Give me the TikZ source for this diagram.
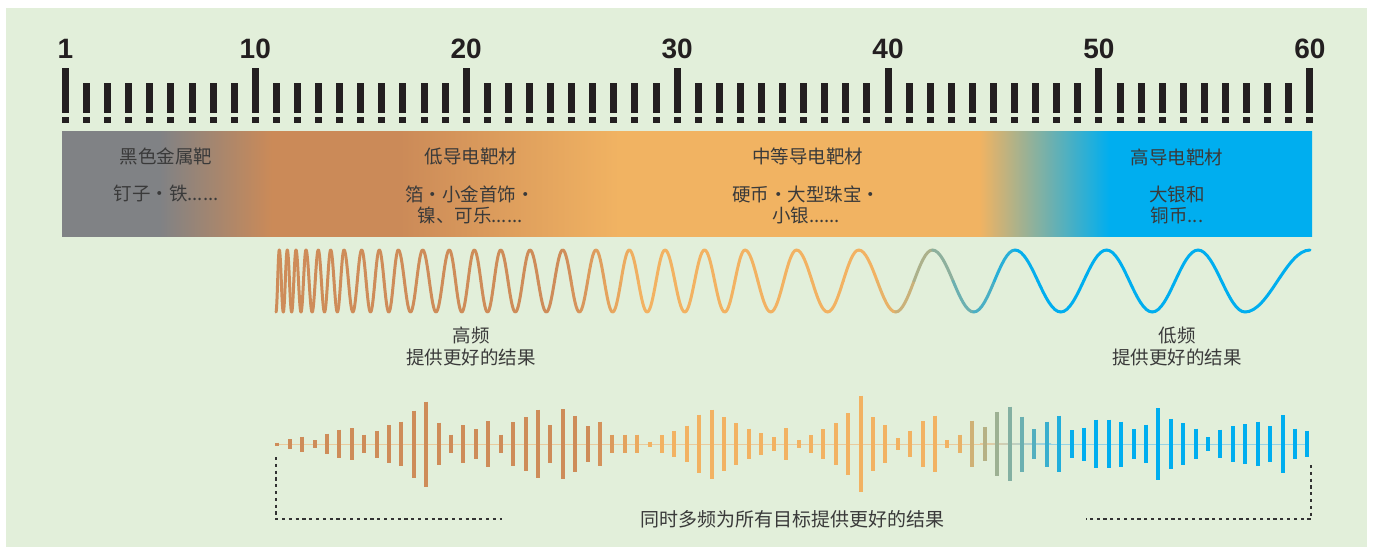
\documentclass[tikz,border=0pt]{standalone}
\usepackage{fontspec}
\usepackage{tikz}
\newfontfamily\cjk{Noto Sans CJK SC}
\newfontfamily\numfont{Liberation Sans}

\definecolor{bg}{HTML}{E2EFDA}
\definecolor{tickblack}{HTML}{231F20}
\definecolor{txt}{HTML}{3A3A3A}
\definecolor{dotgray}{HTML}{333333}
\definecolor{bandgray}{HTML}{808285}
\definecolor{bandorange}{HTML}{CB8A58}
\definecolor{bandlight}{HTML}{F1B362}
\definecolor{bandcyan}{HTML}{00AEEF}
\definecolor{waveA}{HTML}{CE8C59}
\definecolor{waveB}{HTML}{F2B262}
\definecolor{waveC}{HTML}{00AEEF}
\definecolor{lineor}{HTML}{EACB9C}
\definecolor{linecy}{HTML}{94D4E6}

% band from x=62 to x=1312 sits on 25bp..75bp
\pgfdeclarehorizontalshading{bandshade}{100bp}{color(0bp)=(bandgray); color(25bp)=(bandgray);
  color(28.9bp)=(bandgray); color(33.4bp)=(bandorange); color(38.5bp)=(bandorange);
  color(47.3bp)=(bandlight); color(61.7bp)=(bandlight); color(66.9bp)=(bandcyan);
  color(75bp)=(bandcyan); color(100bp)=(bandcyan)}

% colour 'cur' at position #1: A->B between #2 and #3, B->C between #4 and #5
\newcommand\setcol[5]{%
  \pgfmathsetmacro\fracab{min(100,max(0,(#1-#2)/(#3-#2)*100))}%
  \pgfmathsetmacro\fracbc{min(100,max(0,(#1-#4)/(#5-#4)*100))}%
  \colorlet{tmpab}{waveB!\fracab!waveA}%
  \colorlet{cur}{waveC!\fracbc!tmpab}}

\begin{document}
\begin{tikzpicture}[x=1pt,y=-1pt,
  lbl/.style={text=txt,font=\cjk\fontsize{18.5}{21.5}\selectfont,align=center,inner sep=0pt},
  num/.style={text=tickblack,font=\numfont\bfseries\fontsize{28}{28}\selectfont,anchor=base,inner sep=0pt},
  wave/.style={line width=3pt,line cap=round},
  bar/.style={line width=4pt},
  bracket/.style={draw=dotgray,line width=1.3pt,dash pattern=on 3.2pt off 3.6pt}]
\useasboundingbox (0,0) rectangle (1375,547);
\fill[white] (0,0) rectangle (1375,547);
\fill[bg] (6,8) rectangle (1367,547);

% ruler
\foreach \n in {1,...,60}{
  \pgfmathsetmacro\tx{65.5+(\n-1)*21.09}
  \pgfmathsetmacro\ttop{(\n==1 || mod(\n,10)==0) ? 68.3 : 82.7}
  \fill[tickblack] (\tx-3.5,\ttop) rectangle (\tx+3.5,113.3);
  \fill[tickblack] (\tx-3.5,116.5) rectangle (\tx+3.5,122.5);
}
\foreach \n in {1,10,20,30,40,50,60}
  \node[num] (n\n) at ({65.5+(\n-1)*21.09},58.3) {\n};

% band
\shade[shading=bandshade] (62,131) rectangle (1312,236);

\node[lbl] (ferrous) at (166,156.5) {黑色金属靶};
\node[lbl] (ferrousex) at (166,193) {钉子・铁......};
\node[lbl] (low) at (471,156.5) {低导电靶材};
\node[lbl] (lowex) at (470,204.75) {箔・小金首饰・\\镍、可乐......};
\node[lbl] (mid) at (807.5,156.5) {中等导电靶材};
\node[lbl] (midex) at (806,204.75) {硬币・大型珠宝・\\小银......};
\node[lbl] (high) at (1177,157) {高导电靶材};
\node[lbl] (highex) at (1177,205) {大银和\\铜币...};

% wave
\foreach \xb [remember=\xb as \xa (initially 276), count=\i] in {279.3,283.3,287.3,291.65,296,301,306,312.15,318.3,324.5,330.7,337.35,344,352.85,361.7,370.5,379.3,388.8,398.3,410.5,422.7,436,449.3,461.8,474.3,487.5,500.7,515.35,530,546.35,562.7,579.35,596,612.65,629.3,647.15,665,684.75,704.5,724.75,745,770.75,796.5,827.6,858.75,895.6,932.4,973.7,1015,1060.75,1106.5,1152.25,1198,1245,1310}{
  \pgfmathsetmacro\xm{(\xa+\xb)/2}
  \pgfmathsetmacro\ya{isodd(\i) ? 312 : 250}
  \pgfmathsetmacro\yb{isodd(\i) ? 250 : 312}
  \setcol{(\xa+\xm)/2}{560}{640}{880}{1030}
  \draw[wave,cur] (\xa,\ya) cos (\xm,281);
  \setcol{(\xm+\xb)/2}{560}{640}{880}{1030}
  \draw[wave,cur] (\xm,281) sin (\xb,\yb);
}

\node[lbl] (hf) at (471,346.25) {高频\\提供更好的结果};
\node[lbl] (lf) at (1177,346.25) {低频\\提供更好的结果};

% bars
\fill[lineor] (277,443.5) rectangle (981,444.5);
\shade[left color=lineor,right color=linecy] (980,443.5) rectangle (1051,444.5);
\fill[linecy] (1050,443.5) rectangle (1307,444.5);
\foreach \h [count=\i from 0] in {1.5,5,7.5,3.7,10.3,14.3,15.8,9.3,13.5,18.7,22.3,33.5,42.5,21.3,9.3,18.7,14.8,23,9.3,21.8,26.8,34.3,19,35,28.2,17.7,22.3,9.3,9.3,9.3,2.5,9,13.2,18.3,29.3,34.5,26.7,21,15.3,11,6.7,16,4.2,9,15,21,31,48.3,27,19.2,5.8,13.3,22.7,28.3,4.2,9.3,23.3,17.2,32,37.3,27.5,15,22.5,28.3,13.8,16.5,24.3,24.3,22.5,15,19.3,36,25.2,20.8,15.3,6.8,14.3,17.7,19.7,22.3,17.7,29,15.3,13.3}{
  \pgfmathsetmacro\bx{277.3+12.41*\i}
  \setcol{\bx}{590}{650}{955}{1075}
  \draw[bar,cur] (\bx,444-\h) -- (\bx,444+\h);
}

% bracket
\node[lbl,font=\cjk\fontsize{19}{21}\selectfont] (all) at (792,519) {同时多频为所有目标提供更好的结果};
\coordinate (bl) at (276,457);
\coordinate (blc) at (276,519);
\coordinate (bla) at (502,519);
\coordinate (br) at (1311,465);
\coordinate (brc) at (1311,519);
\coordinate (bra) at (1086,519);
\draw[bracket] (bl) -- (blc) -- (bla);
\draw[bracket] (br) -- (brc) -- (bra);
\end{tikzpicture}
\end{document}
